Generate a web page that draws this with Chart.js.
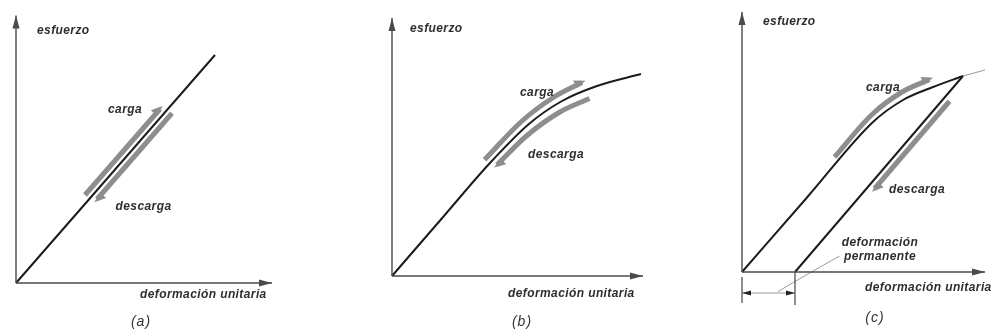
<!DOCTYPE html>
<html>
<head>
<meta charset="utf-8">
<script src="https://cdn.jsdelivr.net/npm/chart.js@4.4.1/dist/chart.umd.min.js"></script>
<style>
    html, body { margin: 0; padding: 0; background: #fff; }
    #wrap { position: relative; width: 993px; height: 334px; overflow: hidden; }
    canvas { position: absolute; top: 0; }
</style>
</head>
<body>
<div id="wrap">
    <canvas id="chartA" width="330" height="334" style="left:0px"></canvas>
    <canvas id="chartB" width="330" height="334" style="left:330px"></canvas>
    <canvas id="chartC" width="333" height="334" style="left:660px"></canvas>
</div>
<script>
// ==== DONNÉES (unités : déformation / esfuerzo) ====

// (a) comportamiento elástico lineal
const aAxisY = [[0, 0], [0, 10.7]];
const aAxisX = [[0, 0], [10.24, 0]];
const aLine = [[0, 0], [7.96, 9.12]];
const aCarga = [[2.76, 3.52], [5.76, 6.96]];
const aDescarga = [[3.24, 3.35], [6.24, 6.79]];

// (b) comportamiento elástico no lineal
const bAxisY = [[0, 0], [0, 10.32]];
const bAxisX = [[0, 0], [10.04, 0]];
const bCurve = [[0, 0], [2.0, 2.31], [3.9, 4.5], [5.5, 6.1], [6.8, 7.0], [8.2, 7.6], [9.96, 8.08]];
const bCarga = [[3.7, 4.65], [5.2, 6.2], [6.5, 7.17], [7.6, 7.74]];
const bDescarga = [[4.2, 4.45], [5.4, 5.62], [6.7, 6.55], [7.9, 7.1]];

// (c) comportamiento inelástico
const cAxisY = [[0, 0], [0, 10.4]];
const cAxisX = [[0, 0], [9.72, 0]];
const cLoading = [[0, 0], [2.6, 2.98], [5.24, 6.0], [6.44, 6.88], [7.64, 7.4], [8.84, 7.84]];
const cBeyond = [[8.84, 7.84], [9.72, 8.08]];
const cUnloading = [[2.12, 0], [8.84, 7.84]];
const cCarga = [[3.7, 4.6], [5.2, 6.3], [6.4, 7.2], [7.5, 7.7]];
const cDescarga = [[5.3, 3.33], [8.3, 6.83]];
const cPermanent = [0, 2.12];
const cTickLeft = [[0, -0.2], [0, -1.24]];
const cTickRight = [[2.12, 0], [2.12, -1.32]];
const cDimension = [[0, -0.84], [2.12, -0.84]];
const cLeader = [[1.44, -0.78], [2.6, -0.1], [3.9, 0.64]];

// Textes
const aLabels = [
    { text: 'esfuerzo', x: 0.84, y: 10.08, align: 'left' },
    { text: 'carga', x: 4.36, y: 6.92, align: 'center' },
    { text: 'descarga', x: 5.1, y: 3.04, align: 'center' },
    { text: 'deformación unitaria', x: 4.96, y: -0.48, align: 'left' }
];
const bLabels = [
    { text: 'esfuerzo', x: 0.72, y: 9.88, align: 'left' },
    { text: 'carga', x: 5.8, y: 7.32, align: 'center' },
    { text: 'descarga', x: 6.56, y: 4.84, align: 'center' },
    { text: 'deformación unitaria', x: 4.64, y: -0.72, align: 'left' }
];
const cLabels = [
    { text: 'esfuerzo', x: 0.84, y: 10.0, align: 'left' },
    { text: 'carga', x: 5.64, y: 7.36, align: 'center' },
    { text: 'descarga', x: 7.0, y: 3.28, align: 'center' },
    { text: 'deformación', x: 5.52, y: 1.16, align: 'center' },
    { text: 'permanente', x: 5.52, y: 0.6, align: 'center' },
    { text: 'deformación unitaria', x: 4.92, y: -0.64, align: 'left' }
];
const panelTitles = ['(a)', '(b)', '(c)'];
const titlePos = [[5.0, -1.56], [5.2, -1.84], [5.32, -1.84]];

// ==== STYLES ====
const UNIT = 25; // px par unité
const AXIS_COLOR = '#4a4a4a';
const CURVE_COLOR = '#1c1c1c';
const BAND_COLOR = '#8e8e8e';
const TEXT_FONT = 'bold italic 12px "Liberation Sans", Arial, sans-serif';
const TITLE_FONT = 'italic 14px "Liberation Sans", Arial, sans-serif';

/**
 * Construit un dataset ligne
 */
function line(points, color, width, extra) {
    return Object.assign({
        data: points.map(([x, y]) => ({ x, y })),
        borderColor: color,
        borderWidth: width,
        showLine: true,
        pointRadius: 0,
        fill: false,
        tension: 0
    }, extra || {});
}

// Têtes de flèches dessinées à partir des points du dataset
const arrowPlugin = {
    id: 'arrowHeads',
    afterDatasetsDraw(chart) {
        const ctx = chart.ctx;
        chart.data.datasets.forEach((ds, i) => {
            if (!ds.heads) return;
            const pts = chart.getDatasetMeta(i).data;
            ds.heads.forEach(h => {
                const end = h.at === 'start' ? pts[0] : pts[pts.length - 1];
                const prev = h.at === 'start' ? pts[1] : pts[pts.length - 2];
                let dx = end.x - prev.x, dy = end.y - prev.y;
                const len = Math.hypot(dx, dy);
                dx /= len; dy /= len;
                const ext = h.ext || 0;
                const tx = end.x + dx * ext, ty = end.y + dy * ext;
                const px = dy, py = -dx;
                const bx = tx - dx * h.len, by = ty - dy * h.len;
                ctx.save();
                ctx.fillStyle = h.color || ds.borderColor;
                ctx.beginPath();
                ctx.moveTo(tx, ty);
                if (h.half) {
                    ctx.lineTo(bx + px * h.w, by + py * h.w);
                    ctx.lineTo(bx - px * h.inner, by - py * h.inner);
                } else {
                    ctx.lineTo(bx + px * h.w, by + py * h.w);
                    ctx.lineTo(bx - px * h.w, by - py * h.w);
                }
                ctx.closePath();
                ctx.fill();
                ctx.restore();
            });
        });
    }
};

// Textes placés en coordonnées de données
const textPlugin = {
    id: 'panelTexts',
    afterDraw(chart, args, opts) {
        const ctx = chart.ctx;
        const xs = chart.scales.x, ys = chart.scales.y;
        ctx.save();
        ctx.textBaseline = 'middle';
        ctx.fillStyle = '#2e2e2e';
        ctx.font = TEXT_FONT;
        ctx.letterSpacing = '0.4px';
        (opts.items || []).forEach(t => {
            ctx.textAlign = t.align;
            ctx.fillText(t.text, xs.getPixelForValue(t.x), ys.getPixelForValue(t.y));
        });
        if (opts.title) {
            ctx.font = TITLE_FONT;
            ctx.letterSpacing = '1px';
            ctx.textAlign = 'center';
            ctx.fillStyle = '#333';
            ctx.fillText(opts.title.text, xs.getPixelForValue(opts.title.x), ys.getPixelForValue(opts.title.y));
        }
        ctx.restore();
    }
};

const axisHead = { at: 'end', len: 13, w: 3.5 };
const bandHead = (at) => ({ at: at, len: 11, w: 6, inner: 2.5, half: true, ext: 4 });

/**
 * Création d'un panneau
 */
function makePanel(id, panel, datasets, labels, idx) {
    const ox = panel.ox, oy = panel.oy;
    new Chart(document.getElementById(id), {
        type: 'scatter',
        data: { datasets: datasets },
        options: {
            responsive: false,
            animation: false,
            events: [],
            layout: { padding: 0 },
            plugins: {
                legend: { display: false },
                tooltip: { enabled: false },
                panelTexts: {
                    items: labels,
                    title: { text: panelTitles[idx], x: titlePos[idx][0], y: titlePos[idx][1] }
                }
            },
            scales: {
                x: { type: 'linear', display: false, min: -ox / UNIT, max: (panel.w - ox) / UNIT },
                y: { type: 'linear', display: false, min: -(panel.h - oy) / UNIT, max: oy / UNIT }
            }
        },
        plugins: [arrowPlugin, textPlugin]
    });
}

document.addEventListener('DOMContentLoaded', function() {
    // Panneau (a)
    makePanel('chartA', { w: 330, h: 334, ox: 16, oy: 283 }, [
        line(aAxisY, AXIS_COLOR, 1.4, { heads: [axisHead] }),
        line(aAxisX, AXIS_COLOR, 1.4, { heads: [axisHead] }),
        line(aCarga, BAND_COLOR, 5, { heads: [bandHead('end')] }),
        line(aDescarga, BAND_COLOR, 5, { heads: [bandHead('start')] }),
        line(aLine, CURVE_COLOR, 2)
    ], aLabels, 0);

    // Panneau (b)
    makePanel('chartB', { w: 330, h: 334, ox: 62, oy: 276 }, [
        line(bAxisY, AXIS_COLOR, 1.4, { heads: [axisHead] }),
        line(bAxisX, AXIS_COLOR, 1.4, { heads: [axisHead] }),
        line(bCarga, BAND_COLOR, 5, { heads: [bandHead('end')], cubicInterpolationMode: 'monotone' }),
        line(bDescarga, BAND_COLOR, 5, { heads: [bandHead('start')], cubicInterpolationMode: 'monotone' }),
        line(bCurve, CURVE_COLOR, 2, { cubicInterpolationMode: 'monotone' })
    ], bLabels, 1);

    // Panneau (c)
    makePanel('chartC', { w: 333, h: 334, ox: 82, oy: 272 }, [
        line(cAxisY, AXIS_COLOR, 1.4, { heads: [axisHead] }),
        line(cAxisX, AXIS_COLOR, 1.4, { heads: [axisHead] }),
        line(cCarga, BAND_COLOR, 5, { heads: [bandHead('end')], cubicInterpolationMode: 'monotone' }),
        line(cDescarga, BAND_COLOR, 5, { heads: [bandHead('start')] }),
        line(cLoading, CURVE_COLOR, 2, { cubicInterpolationMode: 'monotone' }),
        line(cBeyond, '#9a9a9a', 1),
        line(cUnloading, CURVE_COLOR, 2),
        line(cTickLeft, '#555', 1.3),
        line(cTickRight, '#555', 1.3),
        line(cDimension, '#999', 1, { heads: [
            { at: 'start', len: 9, w: 2.5, color: '#222' },
            { at: 'end', len: 9, w: 2.5, color: '#222' }
        ] }),
        line(cLeader, '#9a9a9a', 1, { tension: 0.3 })
    ], cLabels, 2);
});
</script>
</body>
</html>
